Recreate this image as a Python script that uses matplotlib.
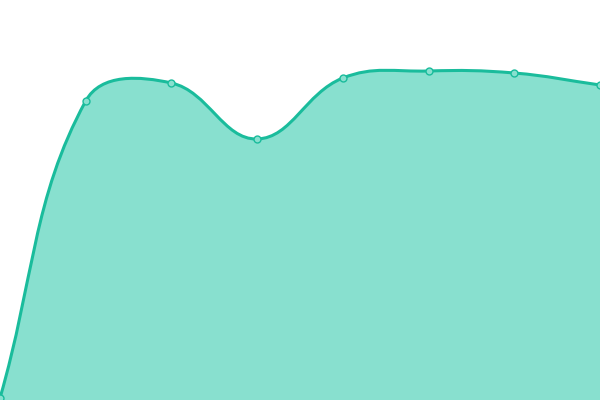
import numpy as np
import matplotlib
matplotlib.use("Agg")
import matplotlib.pyplot as plt
from matplotlib.path import Path
from matplotlib.patches import PathPatch

# values (0 at the bottom edge, 400 at the top)
labels = ["1", "2", "3", "4", "5", "6", "7", "8"]
values = [2, 299, 317, 261, 322, 329, 327, 315]

line_col = "#1abc9c"
fill_col = "#88e0cf"
tension = 0.4

W, H = 600, 400
xs = np.linspace(0, W, len(values))
ys = np.array(values, dtype=float)


def control_points(px, py, t):
    # bezier control points in the style of a tensioned spline
    n = len(px)
    c_prev = [(px[i], py[i]) for i in range(n)]
    c_next = [(px[i], py[i]) for i in range(n)]
    for i in range(n):
        p0 = (px[max(i - 1, 0)], py[max(i - 1, 0)])
        p1 = (px[i], py[i])
        p2 = (px[min(i + 1, n - 1)], py[min(i + 1, n - 1)])
        d01 = np.hypot(p1[0] - p0[0], p1[1] - p0[1])
        d12 = np.hypot(p2[0] - p1[0], p2[1] - p1[1])
        tot = d01 + d12
        s01 = d01 / tot if tot else 0
        s12 = d12 / tot if tot else 0
        fa, fb = t * s01, t * s12
        c_prev[i] = (p1[0] - fa * (p2[0] - p0[0]), p1[1] - fa * (p2[1] - p0[1]))
        c_next[i] = (p1[0] + fb * (p2[0] - p0[0]), p1[1] + fb * (p2[1] - p0[1]))
    return c_prev, c_next


cp, cn = control_points(xs, ys, tension)
verts = [(xs[0], ys[0])]
codes = [Path.MOVETO]
for i in range(len(xs) - 1):
    verts += [cn[i], cp[i + 1], (xs[i + 1], ys[i + 1])]
    codes += [Path.CURVE4] * 3

fill_verts = verts + [(xs[-1], 0), (xs[0], 0), (xs[0], ys[0])]
fill_codes = codes + [Path.LINETO, Path.LINETO, Path.CLOSEPOLY]

fig = plt.figure(figsize=(6, 4), dpi=100)
ax = fig.add_axes([0, 0, 1, 1])
ax.set_xlim(0, W)
ax.set_ylim(0, H)
ax.axis("off")

ax.add_patch(PathPatch(Path(fill_verts, fill_codes), facecolor=fill_col, edgecolor="none"))
ax.add_patch(PathPatch(Path(verts, codes), facecolor="none", edgecolor=line_col, lw=2.2))
ax.plot(xs, ys, "o", ms=5, mfc=fill_col, mec=line_col, mew=1, clip_on=False)

fig.savefig("out.png", dpi=100)
plt.close()
